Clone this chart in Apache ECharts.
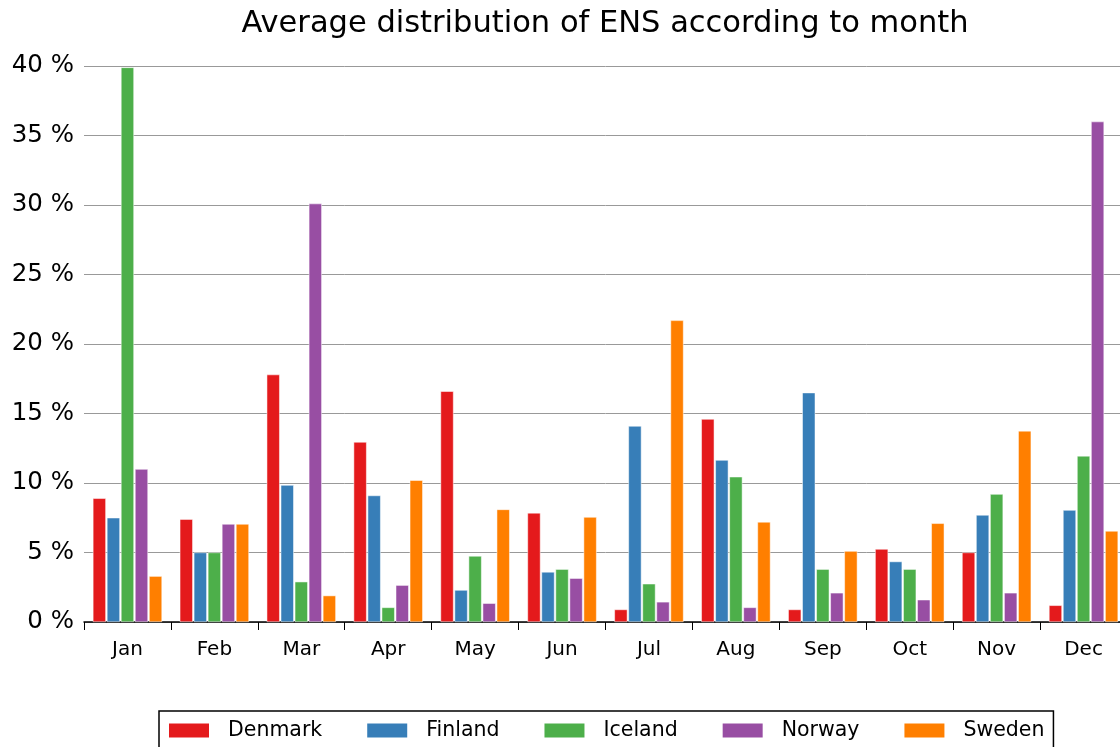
<!DOCTYPE html>
<html>
<head>
<meta charset="utf-8">
<script src="https://cdn.jsdelivr.net/npm/echarts@6/dist/echarts.min.js"></script>
<style>
  html, body { margin: 0; padding: 0; background: #fff; overflow: hidden; }
  /* plot runs a few pixels past the right edge of the window, as in the original */
  #chart { width: 1130px; height: 747px; }
</style>
</head>
<body>
<div id="chart"></div>
<script>
const months = ['Jan', 'Feb', 'Mar', 'Apr', 'May', 'Jun', 'Jul', 'Aug', 'Sep', 'Oct', 'Nov', 'Dec']
const countries = ['Denmark', 'Finland', 'Iceland', 'Norway', 'Sweden']
const colors = ['#e41a1c', '#377eb8', '#4daf4a', '#984ea3', '#ff7f00']

// percent of ENS per month
const denmark = [8.9, 7.4, 17.8, 12.95, 16.6, 7.85, 0.9, 14.6, 0.9, 5.25, 5.0, 1.2]
const finland = [7.5, 5.0, 9.85, 9.1, 2.3, 3.6, 14.1, 11.65, 16.5, 4.35, 7.7, 8.05]
const iceland = [39.9, 5.0, 2.9, 1.05, 4.75, 3.8, 2.75, 10.45, 3.8, 3.8, 9.2, 11.95]
const norway = [11.0, 7.05, 30.1, 2.65, 1.35, 3.15, 1.45, 1.05, 2.1, 1.6, 2.1, 36.0]
const sweden = [3.3, 7.05, 1.9, 10.2, 8.1, 7.55, 21.7, 7.2, 5.1, 7.1, 13.75, 6.55]

const seriesData = [denmark, finland, iceland, norway, sweden]
const font = 'DejaVu Sans'

const chart = echarts.init(document.getElementById('chart'), null, { renderer: 'canvas' })

chart.setOption({
  animation: false,
  title: {
    text: 'Average distribution of ENS according to month',
    left: 600,
    textAlign: 'center',
    top: 4,
    textStyle: { fontFamily: font, fontSize: 30.5, fontWeight: 'normal', color: '#000' },
  },
  grid: { left: 84, top: 66, width: 1043, bottom: 125, containLabel: false },
  legend: {
    left: 159,
    top: 711,
    padding: [9, 9, 9, 8],
    borderColor: '#000',
    borderWidth: 1.5,
    itemWidth: 42,
    itemHeight: 16,
    itemGap: 43,
    icon: 'rect',
    data: countries,
    textStyle: { fontFamily: font, fontSize: 20.5, color: '#000', padding: [0, 0, 0, 13] },
  },
  xAxis: {
    type: 'category',
    data: months,
    axisLine: { lineStyle: { color: '#000', width: 1.5 } },
    axisTick: { show: true, length: 8, lineStyle: { color: '#000', width: 1 } },
    axisLabel: { fontFamily: font, fontSize: 20, color: '#000', margin: 18 },
  },
  yAxis: {
    type: 'value',
    min: 0,
    max: 40,
    interval: 5,
    axisLine: { show: false },
    axisTick: { show: false },
    axisLabel: { fontFamily: font, fontSize: 24.5, color: '#000', margin: 10, formatter: '{value} %' },
    splitLine: { lineStyle: { color: '#999', width: 1 } },
  },
  series: seriesData.map((d, i) => ({
    name: countries[i],
    type: 'bar',
    data: d,
    barWidth: 13,
    barGap: '8%',
    itemStyle: { color: colors[i], borderColor: '#fff', borderWidth: 0.5 },
  })),
})
</script>
</body>
</html>
